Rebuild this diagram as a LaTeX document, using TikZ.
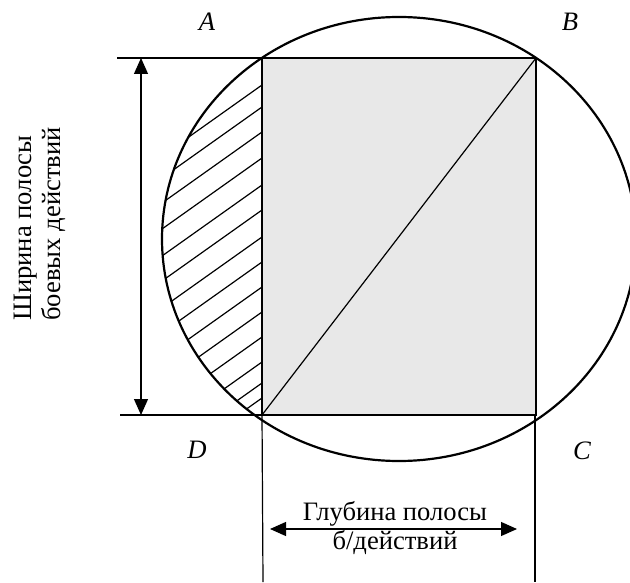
\documentclass[tikz,border=0pt]{standalone}
\usepackage{fontspec}
\setmainfont{Liberation Serif}
\usetikzlibrary{positioning, arrows.meta}

\begin{document}
\begin{tikzpicture}[x=0.5pt, y=-0.5pt,
    txt/.style={inner sep=0pt, font=\fontsize{13.3}{14.5}\selectfont},
    corner/.style={txt, font=\fontsize{13.3}{14.5}\selectfont\itshape},
    thin line/.style={line width=0.6pt},
    dimarrow/.style={thin line, {Triangle[length=8pt,width=7pt]}-{Triangle[length=8pt,width=7pt]}}]
    \clip (0,0) rectangle (630,582);
    % corners of the strip
    \coordinate (A) at (262,58);
    \coordinate (B) at (536,58);
    \coordinate (C) at (536,415);
    \coordinate (D) at (262,415);
    \coordinate (O) at (399,239);
    % hatched segment
    \begin{scope}
        \clip (O) ellipse [x radius=118.5pt, y radius=111pt];
        \clip (100,0) rectangle (A |- 0,582);
        \foreach \y in {85,107,132,158,185,210,237,262,287,312,337,362,383,398}
            \draw[thin line] (262,\y) -- ++(-300,213);
    \end{scope}
    \draw[fill=black!9, line width=1.3pt] (A) rectangle (C);
    \draw[thin line] (D) -- (B);
    \draw[line width=1.1pt] (O) ellipse [x radius=118.5pt, y radius=111pt];
    % width of the strip
    \coordinate (wt) at (117,58);
    \coordinate (wb) at (120,415);
    \draw[thin line] (wt) -- (A);
    \draw[thin line] (wb) -- (D);
    \coordinate (wa) at (141,58);
    \coordinate (wz) at (141,415);
    \draw[dimarrow] (wa) -- (wz);
    \node[txt, rotate=90, align=left] (width) at (40,224) {Ширина полосы\\боевых действий};
    % depth of the strip
    \coordinate (dl) at (263,582);
    \coordinate (dr) at (535,582);
    \draw[thin line] (D) -- (dl);
    \draw[thin line] (C |- D) ++(-1,0) coordinate (Cx) -- (dr);
    \coordinate (da) at (270,529);
    \coordinate (dz) at (517,529);
    \draw[dimarrow] (da) -- (dz);
    \node[txt, align=center] (depth) at (395,528) {Глубина полосы\\б/действий};
    % labels
    \node[corner] (lA) at (207,22) {A};
    \node[corner] (lB) at (570,22) {B};
    \node[corner] (lC) at (582,451) {C};
    \node[corner] (lD) at (197,450) {D};
\end{tikzpicture}
\end{document}
